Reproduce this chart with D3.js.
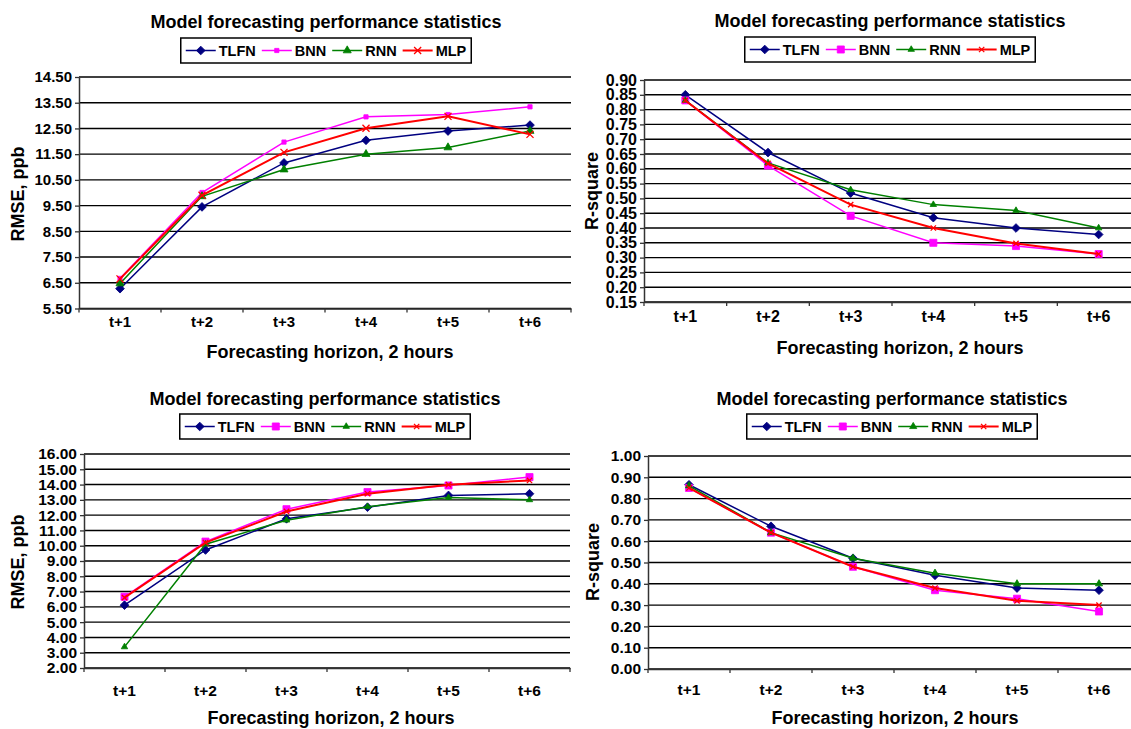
<!DOCTYPE html>
<html>
<head>
<meta charset="utf-8">
<script src="https://cdn.jsdelivr.net/npm/d3@7"></script>
<style>
  body { margin: 0; background: #fff; }
  text { font-family: "Liberation Sans", Arial, sans-serif; font-weight: bold; fill: #000; }
</style>
</head>
<body>
<div id="chart"></div>
<script>
// Categories and series
var horizons = ["t+1", "t+2", "t+3", "t+4", "t+5", "t+6"];
var seriesNames = ["TLFN", "BNN", "RNN", "MLP"];
var seriesColors = ["#000080", "#ff00ff", "#008000", "#ff0000"];

var chartTitle = "Model forecasting performance statistics";
var xTitle = "Forecasting horizon, 2 hours";

// Top left: RMSE
var rmseTicksA = [5.5, 6.5, 7.5, 8.5, 9.5, 10.5, 11.5, 12.5, 13.5, 14.5];
var rmseA_TLFN = [6.27, 9.45, 11.16, 12.04, 12.4, 12.63];
var rmseA_BNN = [6.67, 10.01, 11.97, 12.95, 13.04, 13.34];
var rmseA_RNN = [6.47, 9.86, 10.9, 11.5, 11.76, 12.4];
var rmseA_MLP = [6.65, 9.9, 11.57, 12.51, 12.97, 12.27];

// Top right: R-square
var r2TicksB = [0.15, 0.2, 0.25, 0.3, 0.35, 0.4, 0.45, 0.5, 0.55, 0.6, 0.65, 0.7, 0.75, 0.8, 0.85, 0.9];
var r2B_TLFN = [0.85, 0.655, 0.518, 0.435, 0.4, 0.378];
var r2B_BNN = [0.831, 0.611, 0.441, 0.35, 0.339, 0.312];
var r2B_RNN = [0.831, 0.62, 0.529, 0.479, 0.459, 0.4];
var r2B_MLP = [0.831, 0.618, 0.479, 0.4, 0.348, 0.312];

// Bottom left: RMSE
var rmseTicksC = [2, 3, 4, 5, 6, 7, 8, 9, 10, 11, 12, 13, 14, 15, 16];
var rmseC_TLFN = [6.11, 9.72, 11.76, 12.52, 13.29, 13.4];
var rmseC_BNN = [6.66, 10.27, 12.39, 13.51, 13.94, 14.49];
var rmseC_RNN = [3.38, 10.1, 11.67, 12.55, 13.15, 13.0];
var rmseC_MLP = [6.6, 10.2, 12.24, 13.4, 13.99, 14.27];

// Bottom right: R-square
var r2TicksD = [0, 0.1, 0.2, 0.3, 0.4, 0.5, 0.6, 0.7, 0.8, 0.9, 1.0];
var r2D_TLFN = [0.865, 0.67, 0.52, 0.44, 0.38, 0.37];
var r2D_BNN = [0.85, 0.64, 0.48, 0.37, 0.33, 0.27];
var r2D_RNN = [0.86, 0.64, 0.52, 0.45, 0.4, 0.4];
var r2D_MLP = [0.85, 0.64, 0.48, 0.38, 0.32, 0.3];

var panels = [
  {
    series: [rmseA_TLFN, rmseA_BNN, rmseA_RNN, rmseA_MLP], ticks: rmseTicksA, yTitle: "RMSE, ppb",
    left: 79, right: 571, top: 77, bottom: 308.5,
    cx: 326, titleY: 28, legendTop: 38, yTitleX: 24, yTitleY: 194, xTitleX: 330, xTitleY: 358,
    labelGap: 8, tickFont: 15, markers: [38, 18, 28, 34]
  },
  {
    series: [r2B_TLFN, r2B_BNN, r2B_RNN, r2B_MLP], ticks: r2TicksB, yTitle: "R-square",
    left: 644, right: 1140, top: 80, bottom: 302,
    cx: 890, titleY: 26.5, legendTop: 37, yTitleX: 598, yTitleY: 191, xTitleX: 900, xTitleY: 354,
    labelGap: 9, tickFont: 16, markers: [38, 50, 18, 20]
  },
  {
    series: [rmseC_TLFN, rmseC_BNN, rmseC_RNN, rmseC_MLP], ticks: rmseTicksC, yTitle: "RMSE, ppb",
    left: 84, right: 570, top: 454, bottom: 668,
    cx: 325, titleY: 404.5, legendTop: 414, yTitleX: 24, yTitleY: 562, xTitleX: 331, xTitleY: 724,
    labelGap: 17, tickFont: 15.5, markers: [38, 50, 18, 20]
  },
  {
    series: [r2D_TLFN, r2D_BNN, r2D_RNN, r2D_MLP], ticks: r2TicksD, yTitle: "R-square",
    left: 648, right: 1140, top: 456, bottom: 669,
    cx: 892, titleY: 404.5, legendTop: 414, yTitleX: 599, yTitleY: 562, xTitleX: 895, xTitleY: 724,
    labelGap: 15, tickFont: 15.5, markers: [38, 50, 22, 20]
  }
];

var lineWidths = [1.5, 1.5, 1.5, 2];

var svg = d3.select("#chart")
  .append("svg")
  .attr("width", 1131)
  .attr("height", 729);

svg.append("rect").attr("width", 1131).attr("height", 729).attr("fill", "#fff");

// marker shape for each series
function markerPath(k, size) {
  var types = [d3.symbolSquare, d3.symbolSquare, d3.symbolTriangle, d3.symbolX];
  return d3.symbol().type(types[k]).size(size)();
}

function drawMarker(sel, k, size, color) {
  sel.attr("d", markerPath(k, size));
  if (k === 3) {
    sel.attr("fill", "none").attr("stroke", color).attr("stroke-width", 1.3);
  } else {
    sel.attr("fill", color).attr("stroke", color).attr("stroke-width", 0.8);
  }
}

function drawPanel(p) {
  var g = svg.append("g");

  var x = d3.scaleBand().domain(horizons).range([p.left, p.right]);
  var y = d3.scaleLinear()
    .domain([p.ticks[0], p.ticks[p.ticks.length - 1]])
    .range([p.bottom, p.top]);

  // Gridlines
  g.selectAll(".grid")
    .data(p.ticks)
    .enter()
    .append("line")
    .attr("x1", p.left)
    .attr("x2", p.right)
    .attr("y1", (d) => y(d))
    .attr("y2", (d) => y(d))
    .attr("stroke", "#000")
    .attr("stroke-width", 1.4);

  // Y axis
  var yAxis = g.append("g")
    .attr("transform", "translate(" + p.left + ",0)")
    .call(d3.axisLeft(y).tickValues(p.ticks).tickFormat(d3.format(".2f")).tickSize(4).tickSizeOuter(0).tickPadding(3));
  yAxis.select(".domain").attr("stroke", "#333").attr("stroke-width", 1.5);
  yAxis.selectAll(".tick line").attr("stroke", "#333").attr("stroke-width", 1.3);
  yAxis.selectAll("text").style("font-size", p.tickFont + "px").attr("fill", "#000");

  // X axis: labels in the middle of each category
  var xAxis = g.append("g")
    .attr("transform", "translate(0," + p.bottom + ")")
    .call(d3.axisBottom(x).tickSize(0).tickSizeOuter(0).tickPadding(p.labelGap));
  xAxis.select(".domain").attr("stroke", "#333").attr("stroke-width", 1.5);
  xAxis.selectAll("text").style("font-size", p.tickFont + "px").attr("fill", "#000");

  // tick marks on category boundaries
  var edges = horizons.map((d) => x(d)).concat([x.range()[1]]);
  g.selectAll(".edge")
    .data(edges)
    .enter()
    .append("line")
    .attr("x1", (d) => d)
    .attr("x2", (d) => d)
    .attr("y1", p.bottom)
    .attr("y2", p.bottom + 4)
    .attr("stroke", "#333")
    .attr("stroke-width", 1.3);

  // Series
  var line = d3.line()
    .x((d, i) => x(horizons[i]) + x.bandwidth() / 2)
    .y((d) => y(d));

  p.series.forEach(function (values, k) {
    g.append("path")
      .datum(values)
      .attr("d", line)
      .attr("fill", "none")
      .attr("stroke", seriesColors[k])
      .attr("stroke-width", lineWidths[k]);

    g.selectAll(null)
      .data(values)
      .enter()
      .append("path")
      .attr("transform", function (d, i) {
        var t = "translate(" + (x(horizons[i]) + x.bandwidth() / 2) + "," + y(d) + ")";
        return k === 0 ? t + " rotate(45)" : t;
      })
      .each(function () {
        drawMarker(d3.select(this), k, p.markers[k], seriesColors[k]);
      });
  });

  // Title
  g.append("text")
    .attr("x", p.cx)
    .attr("y", p.titleY)
    .attr("text-anchor", "middle")
    .style("font-size", "18px")
    .text(chartTitle);

  // Legend
  var legend = g.append("g");
  var box = legend.append("rect")
    .attr("y", p.legendTop)
    .attr("height", 25)
    .attr("fill", "#fff")
    .attr("stroke", "#000")
    .attr("stroke-width", 1.5);
  var midY = p.legendTop + 12.5;
  var cursor = 5;
  seriesNames.forEach(function (name, k) {
    legend.append("line")
      .attr("x1", cursor)
      .attr("x2", cursor + 30)
      .attr("y1", midY)
      .attr("y2", midY)
      .attr("stroke", seriesColors[k])
      .attr("stroke-width", lineWidths[k]);
    legend.append("path")
      .attr("transform", "translate(" + (cursor + 15) + "," + midY + ")" + (k === 0 ? " rotate(45)" : ""))
      .call(drawMarker, k, p.markers[k], seriesColors[k]);
    var label = legend.append("text")
      .attr("x", cursor + 33)
      .attr("y", midY + 5.5)
      .style("font-size", "14.5px")
      .text(name);
    cursor += 33 + label.node().getComputedTextLength() + (k < 3 ? 6 : 5);
  });
  box.attr("x", 0).attr("width", cursor);
  legend.attr("transform", "translate(" + (p.cx - cursor / 2) + ",0)");

  // Axis titles
  g.append("text")
    .attr("transform", "translate(" + p.yTitleX + "," + p.yTitleY + ") rotate(-90)")
    .attr("text-anchor", "middle")
    .style("font-size", "18px")
    .text(p.yTitle);

  g.append("text")
    .attr("x", p.xTitleX)
    .attr("y", p.xTitleY)
    .attr("text-anchor", "middle")
    .style("font-size", "18px")
    .text(xTitle);
}

panels.forEach(drawPanel);
</script>
</body>
</html>
